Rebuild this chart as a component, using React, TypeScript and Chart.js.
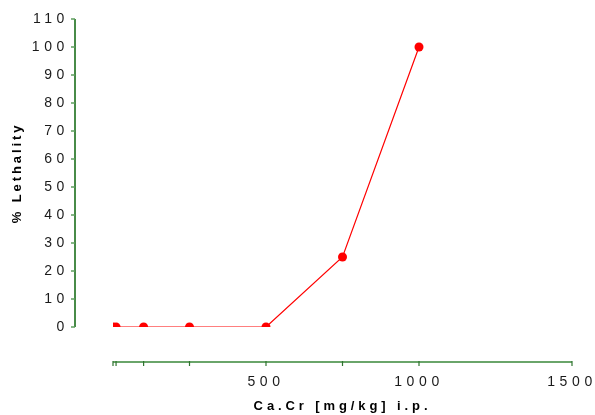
import React, { useEffect, useRef } from "react";
import { Chart, registerables } from "chart.js";

Chart.register(...registerables);

const doses = [0, 10, 100, 250, 500, 750, 1000];
const lethality = [0, 0, 0, 0, 0, 25, 100];
const xTickValues = [0, 10, 100, 250, 500, 750, 1000, 1500];
const xLabeledTicks = [500, 1000, 1500];
const xTitle = "Ca.Cr [mg/kg] i.p.";
const yTitle = "% Lethality";

const FONT = "Arial, 'Liberation Sans', sans-serif";

const zeroPad = (s: any) => {
  s.paddingLeft = 0;
  s.paddingRight = 0;
  s.paddingTop = 0;
  s.paddingBottom = 0;
};

const wrapTitle = (scale: any, spacing: string) => {
  if (scale.__wrapped) return;
  const orig = scale.drawTitle.bind(scale);
  scale.drawTitle = () => {
    const ctx = scale.ctx;
    const prev = ctx.letterSpacing;
    ctx.letterSpacing = spacing;
    orig();
    ctx.letterSpacing = prev;
  };
  scale.__wrapped = true;
};

const axesPlugin = {
  id: "detachedAxes",
  beforeDraw(chart: any) {
    wrapTitle(chart.scales.x, "3.9px");
    wrapTitle(chart.scales.y, "2.9px");
    chart.ctx.letterSpacing = "4.6px";
  },
  afterDraw(chart: any) {
    const ctx = chart.ctx;
    const xs = chart.scales.x;
    const ys = chart.scales.y;
    ctx.save();
    ctx.letterSpacing = "0px";
    // y axis
    const yAxisX = xs.getPixelForValue(0) - 38;
    ctx.strokeStyle = "#0b650b";
    ctx.lineWidth = 1.5;
    ctx.beginPath();
    ctx.moveTo(yAxisX, ys.getPixelForValue(110));
    ctx.lineTo(yAxisX, ys.getPixelForValue(0));
    ctx.stroke();
    ctx.strokeStyle = "#5e9e5e";
    ctx.lineWidth = 1.5;
    for (let v = 0; v <= 110; v += 10) {
      const py = ys.getPixelForValue(v);
      ctx.beginPath();
      ctx.moveTo(yAxisX - 4, py);
      ctx.lineTo(yAxisX, py);
      ctx.stroke();
    }
    // x axis
    const xAxisY = ys.getPixelForValue(0) + 35;
    ctx.strokeStyle = "#6aa56a";
    ctx.lineWidth = 2;
    ctx.beginPath();
    ctx.moveTo(xs.getPixelForValue(0), xAxisY);
    ctx.lineTo(xs.getPixelForValue(1500), xAxisY);
    ctx.stroke();
    ctx.strokeStyle = "#2f742f";
    ctx.lineWidth = 1.2;
    for (const v of xTickValues) {
      const px = xs.getPixelForValue(v);
      ctx.beginPath();
      ctx.moveTo(px, xAxisY - 1);
      ctx.lineTo(px, xAxisY + 4);
      ctx.stroke();
    }
    ctx.restore();
  },
};

export default function App() {
  const ref = useRef<HTMLCanvasElement>(null);
  useEffect(() => {
    if (!ref.current) return;
    const chart = new Chart(ref.current, {
      type: "line",
      data: {
        datasets: [
          {
            data: doses.map((d, i) => ({ x: d, y: lethality[i] })),
            borderColor: "#ff0000",
            backgroundColor: "#ff0000",
            borderWidth: 1.2,
            pointRadius: 4.5,
            pointBorderWidth: 0,
            tension: 0,
          },
        ],
      },
      options: {
        animation: false,
        responsive: true,
        maintainAspectRatio: false,
        layout: { padding: { left: 0, top: 19, right: 23, bottom: 0 } },
        plugins: { legend: { display: false }, tooltip: { enabled: false } },
        scales: {
          x: {
            type: "linear",
            min: 0,
            max: 1500,
            afterBuildTicks: (s: any) => {
              s.ticks = xTickValues.map((v) => ({ value: v }));
            },
            afterFit: (s: any) => {
              s.height = 88;
              zeroPad(s);
            },
            grid: { display: false, drawTicks: false },
            border: { display: false },
            ticks: {
              padding: 47,
              autoSkip: false,
              maxRotation: 0,
              color: "#1a1a1a",
              font: { family: FONT, size: 14 },
              callback: (v: any) => (xLabeledTicks.includes(Number(v)) ? String(v) : ""),
            },
            title: {
              display: true,
              text: xTitle,
              color: "#000",
              font: { family: FONT, size: 13, weight: "bold" },
              padding: { top: 0, bottom: 1 },
            },
          },
          y: {
            min: 0,
            max: 110,
            afterFit: (s: any) => {
              s.width = 113;
              zeroPad(s);
            },
            grid: { display: false, drawTicks: false },
            border: { display: false },
            ticks: {
              stepSize: 10,
              padding: 44,
              color: "#1a1a1a",
              font: { family: FONT, size: 14 },
            },
            title: {
              display: true,
              text: yTitle,
              color: "#000",
              font: { family: FONT, size: 13, weight: "bold" },
              padding: { top: 10, bottom: 0 },
            },
          },
        },
      },
      plugins: [axesPlugin],
    } as any);
    return () => chart.destroy();
  }, []);
  return (
    <div style={{ position: "fixed", left: 0, top: 0, width: 595, height: 415, background: "#fff" }}>
      <canvas ref={ref} />
    </div>
  );
}
